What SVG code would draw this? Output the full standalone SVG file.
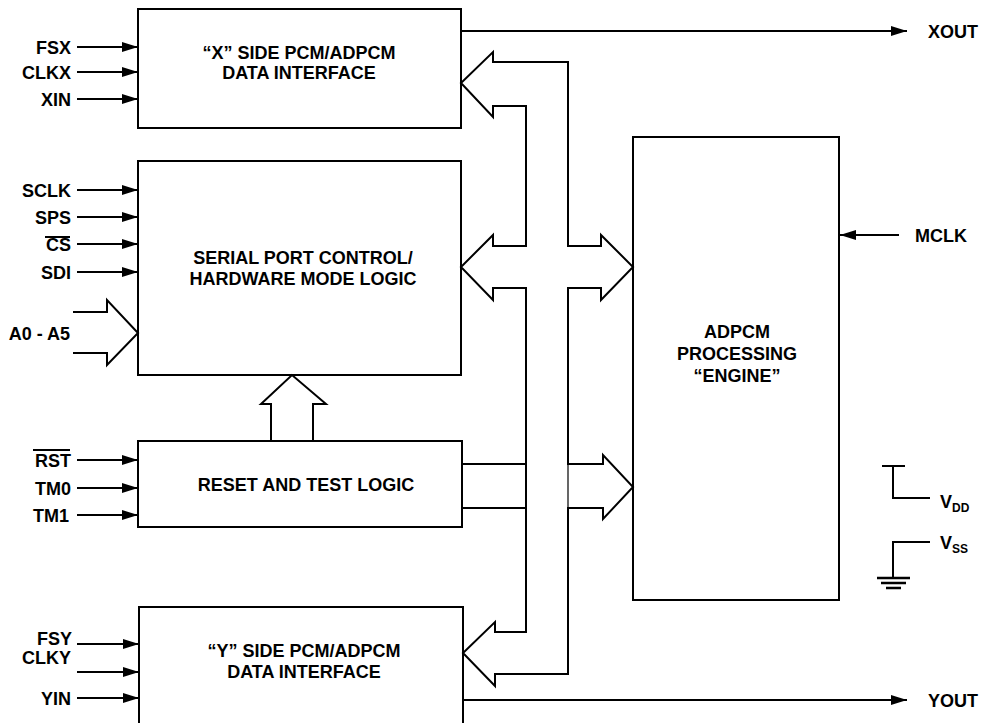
<svg xmlns="http://www.w3.org/2000/svg" width="983" height="723" viewBox="0 0 983 723">
<style>
.box{fill:none;stroke:#000;stroke-width:2}
.w{fill:none;stroke:#000;stroke-width:2}
.bus{fill:none;stroke:#000;stroke-width:2;stroke-linejoin:miter}
.t{font-family:'Liberation Sans',Arial,Helvetica,sans-serif;font-weight:bold;font-size:18px;fill:#000}
.p{font-family:'Liberation Sans',Arial,Helvetica,sans-serif;font-weight:bold;font-size:18px;fill:#000;text-anchor:end}
.c{text-anchor:middle}
.st{text-anchor:start}
.s{font-size:12px}
</style>
<defs>
<marker id="ah" markerUnits="userSpaceOnUse" markerWidth="18" markerHeight="12" refX="16" refY="5" orient="auto">
<path d="M0,0 L16,5 L0,10 Z" fill="#000"/>
</marker>
</defs>
<rect width="983" height="723" fill="#fff"/>

<g id="x-side">
<rect class="box" x="138" y="9" width="323" height="119"/>
<text class="t c" x="299" y="59">“X” SIDE PCM/ADPCM</text>
<text class="t c" x="299" y="79">DATA INTERFACE</text>
</g>

<g id="serial-port">
<rect class="box" x="138" y="161" width="323" height="214"/>
<text class="t c" x="303" y="264">SERIAL PORT CONTROL/</text>
<text class="t c" x="303" y="285">HARDWARE MODE LOGIC</text>
</g>

<g id="reset-test">
<rect class="box" x="138" y="441" width="324" height="86"/>
<text class="t c" x="306" y="491">RESET AND TEST LOGIC</text>
</g>

<g id="y-side">
<path class="box" d="M139,724 V607 H463 V724"/>
<text class="t c" x="304" y="657">“Y” SIDE PCM/ADPCM</text>
<text class="t c" x="304" y="678">DATA INTERFACE</text>
</g>

<g id="engine">
<rect class="box" x="633" y="137" width="206" height="463"/>
<text class="t c" x="737" y="338">ADPCM</text>
<text class="t c" x="737" y="360">PROCESSING</text>
<text class="t c" x="737" y="382">“ENGINE”</text>
</g>

<g id="pins">
<text class="p" x="71" y="54">FSX</text>
<text class="p" x="71" y="79">CLKX</text>
<text class="p" x="71" y="106">XIN</text>
<text class="p" x="71" y="197">SCLK</text>
<text class="p" x="71" y="224">SPS</text>
<text class="p" x="71" y="251">CS</text>
<line class="w" x1="45" y1="237" x2="70" y2="237" stroke-width="1.5"/>
<text class="p" x="70" y="340">A0 - A5</text>
<text class="p" x="71" y="279">SDI</text>
<text class="p" x="71" y="467">RST</text>
<line class="w" x1="33" y1="450" x2="70" y2="450" stroke-width="1.5"/>
<text class="p" x="71" y="495">TM0</text>
<text class="p" x="69" y="522">TM1</text>
<text class="p" x="72" y="645">FSY</text>
<text class="p" x="71" y="664">CLKY</text>
<text class="p" x="71" y="705">YIN</text>
<text class="p st" x="915" y="242">MCLK</text>
<text class="p st" x="928" y="38">XOUT</text>
<text class="p st" x="928" y="707">YOUT</text>
<text class="p st" x="940" y="508">V<tspan class="s" dy="4">DD</tspan></text>
<text class="p st" x="940" y="549">V<tspan class="s" dy="4">SS</tspan></text>
</g>

<g id="connectors">
<g class="w" marker-end="url(#ah)">
<line x1="77" y1="47" x2="138" y2="47"/>
<line x1="77" y1="72" x2="138" y2="72"/>
<line x1="77" y1="99" x2="138" y2="99"/>
<line x1="77" y1="190" x2="138" y2="190"/>
<line x1="77" y1="217" x2="138" y2="217"/>
<line x1="77" y1="244" x2="138" y2="244"/>
<line x1="77" y1="272" x2="138" y2="272"/>
<line x1="77" y1="460" x2="138" y2="460"/>
<line x1="77" y1="488" x2="138" y2="488"/>
<line x1="77" y1="515" x2="138" y2="515"/>
<line x1="77" y1="644" x2="139" y2="644"/>
<line x1="77" y1="672" x2="139" y2="672"/>
<line x1="77" y1="698" x2="139" y2="698"/>
<line x1="461" y1="31" x2="907" y2="31"/>
<line x1="463" y1="700" x2="907" y2="700"/>
<line x1="899" y1="235" x2="840" y2="235"/>
</g>
<path class="bus" d="M73,312 H107 V300 L138,333 L107,365 V353 H73"/>
<path class="bus" d="M271,441 V404 H261 L292,375 L326,404 H313 V441"/>
<path class="bus" d="M568,246 V62 H493 V52 L461,83 L493,117 V106 H526 V246 H493 V235 L461,267 L493,300 V288 H526 V632 H495 V622 L463,653 L495,686 V674 H568 V508 H603 V519 L633,487 L603,455 V464 H568 V288 H601 V300 L633,267 L601,235 V246 Z"/>
<line x1="568" y1="464" x2="568" y2="508" stroke="#000" stroke-width="1.2"/>
<line class="w" x1="462" y1="464" x2="526" y2="464"/>
<line class="w" x1="462" y1="508" x2="526" y2="508"/>
</g>

<g id="power">
<path class="w" d="M882,466 H905 M893,466 V498 H930"/>
<path class="w" d="M930,542 H893 V578"/>
<path d="M877,578 H910 M881,583 H906 M886,588 H901" fill="none" stroke="#000" stroke-width="2.5"/>
</g>
</svg>
